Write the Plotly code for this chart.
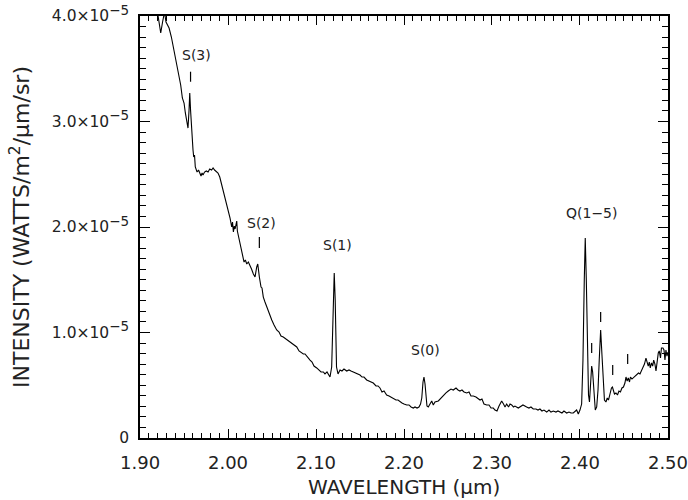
import plotly.graph_objects as go

# Spectrum: wavelength (micron) and intensity (units of 1e-5 W/m^2/um/sr)
wavelength = [
    1.9114, 1.9170, 1.9205, 1.9235, 1.9256, 1.9278, 1.9295, 1.9313, 1.9330, 1.9356,
    1.9375, 1.9390, 1.9413, 1.9426, 1.9440, 1.9462, 1.9481, 1.9500, 1.9515, 1.9534,
    1.9545, 1.9557, 1.9565, 1.9574, 1.9583, 1.9594, 1.9602, 1.9610, 1.9619, 1.9628,
    1.9648, 1.9665, 1.9678, 1.9693, 1.9705, 1.9716, 1.9733, 1.9753, 1.9773, 1.9792,
    1.9813, 1.9830, 1.9847, 1.9867, 1.9886, 1.9906, 1.9926, 1.9943, 1.9969, 2.0000,
    2.0023, 2.0042, 2.0051, 2.0061, 2.0071, 2.0080, 2.0099, 2.0106, 2.0117, 2.0128,
    2.0142, 2.0156, 2.0170, 2.0182, 2.0197, 2.0213, 2.0231, 2.0250, 2.0267, 2.0288,
    2.0307, 2.0326, 2.0338, 2.0356, 2.0375, 2.0386, 2.0401, 2.0420, 2.0440, 2.0466,
    2.0497, 2.0523, 2.0553, 2.0580, 2.0602, 2.0628, 2.0659, 2.0682, 2.0705, 2.0727,
    2.0750, 2.0781, 2.0807, 2.0830, 2.0856, 2.0875, 2.0898, 2.0932, 2.0955, 2.0977,
    2.1008, 2.1034, 2.1057, 2.1083, 2.1102, 2.1125, 2.1140, 2.1159, 2.1178, 2.1193,
    2.1207, 2.1218, 2.1233, 2.1250, 2.1273, 2.1295, 2.1318, 2.1349, 2.1375, 2.1398,
    2.1424, 2.1455, 2.1477, 2.1500, 2.1523, 2.1545, 2.1576, 2.1602, 2.1625, 2.1651,
    2.1682, 2.1705, 2.1727, 2.1750, 2.1773, 2.1803, 2.1830, 2.1852, 2.1878, 2.1909,
    2.1932, 2.1955, 2.1977, 2.2000, 2.2031, 2.2057, 2.2080, 2.2106, 2.2125, 2.2148,
    2.2170, 2.2188, 2.2202, 2.2216, 2.2227, 2.2239, 2.2250, 2.2261, 2.2276, 2.2295,
    2.2315, 2.2333, 2.2352, 2.2390, 2.2420, 2.2447, 2.2477, 2.2503, 2.2534, 2.2560,
    2.2591, 2.2614, 2.2636, 2.2659, 2.2682, 2.2713, 2.2739, 2.2761, 2.2788, 2.2818,
    2.2841, 2.2864, 2.2886, 2.2909, 2.2940, 2.2966, 2.2989, 2.3015, 2.3034, 2.3057,
    2.3080, 2.3110, 2.3131, 2.3148, 2.3167, 2.3188, 2.3205, 2.3224, 2.3244, 2.3261,
    2.3299, 2.3330, 2.3352, 2.3394, 2.3420, 2.3443, 2.3469, 2.3500, 2.3523, 2.3545,
    2.3568, 2.3591, 2.3622, 2.3648, 2.3670, 2.3697, 2.3727, 2.3750, 2.3773, 2.3795,
    2.3818, 2.3849, 2.3875, 2.3898, 2.3924, 2.3943, 2.3962, 2.3981, 2.4000, 2.4019,
    2.4034, 2.4049, 2.4060, 2.4072, 2.4083, 2.4097, 2.4108, 2.4119, 2.4133, 2.4144,
    2.4159, 2.4174, 2.4190, 2.4205, 2.4219, 2.4235, 2.4250, 2.4265, 2.4278, 2.4295,
    2.4310, 2.4324, 2.4341, 2.4358, 2.4369, 2.4381, 2.4392, 2.4409, 2.4426, 2.4443,
    2.4460, 2.4477, 2.4494, 2.4511, 2.4523, 2.4536, 2.4549, 2.4563, 2.4574, 2.4591,
    2.4606, 2.4625, 2.4644, 2.4665, 2.4682, 2.4699, 2.4719, 2.4733, 2.4750, 2.4764,
    2.4776, 2.4788, 2.4799, 2.4813, 2.4826, 2.4838, 2.4852, 2.4864, 2.4879, 2.4890,
    2.4901, 2.4915, 2.4926, 2.4943, 2.4955, 2.4966, 2.4977, 2.4989, 2.5000,
]
intensity = [
    4.341, 4.152, 4.000, 3.839, 3.943, 4.038, 3.943, 3.915, 3.886, 3.801,
    3.725, 3.659, 3.555, 3.517, 3.441, 3.346, 3.223, 3.175, 3.081, 2.967,
    2.938, 3.109, 3.270, 3.109, 2.948, 2.796, 2.730, 2.664, 2.682, 2.569,
    2.521, 2.540, 2.502, 2.483, 2.512, 2.493, 2.521, 2.531, 2.521, 2.550,
    2.540, 2.559, 2.540, 2.521, 2.512, 2.474, 2.408, 2.370, 2.284, 2.161,
    2.085, 2.000, 2.047, 1.953, 2.009, 1.981, 2.057, 1.962, 1.915, 1.877,
    1.820, 1.782, 1.716, 1.668, 1.687, 1.649, 1.668, 1.640, 1.602, 1.555,
    1.526, 1.621, 1.649, 1.526, 1.431, 1.422, 1.336, 1.289, 1.242, 1.175,
    1.118, 1.071, 1.024, 1.005, 0.967, 0.957, 0.938, 0.919, 0.910, 0.900,
    0.882, 0.863, 0.825, 0.815, 0.796, 0.796, 0.768, 0.739, 0.720, 0.682,
    0.664, 0.645, 0.626, 0.626, 0.607, 0.626, 0.607, 0.578, 0.673, 1.308,
    1.564, 1.308, 0.673, 0.607, 0.645, 0.635, 0.654, 0.635, 0.645, 0.635,
    0.626, 0.616, 0.607, 0.597, 0.578, 0.578, 0.550, 0.540, 0.531, 0.521,
    0.493, 0.493, 0.474, 0.436, 0.445, 0.408, 0.398, 0.389, 0.379, 0.360,
    0.360, 0.341, 0.332, 0.322, 0.313, 0.313, 0.294, 0.284, 0.294, 0.284,
    0.294, 0.322, 0.379, 0.531, 0.578, 0.512, 0.341, 0.303, 0.294, 0.322,
    0.351, 0.313, 0.341, 0.351, 0.379, 0.398, 0.427, 0.445, 0.464, 0.455,
    0.474, 0.455, 0.445, 0.455, 0.436, 0.427, 0.436, 0.398, 0.398, 0.389,
    0.370, 0.360, 0.370, 0.322, 0.313, 0.313, 0.284, 0.284, 0.265, 0.256,
    0.303, 0.351, 0.322, 0.294, 0.322, 0.294, 0.322, 0.313, 0.294, 0.303,
    0.284, 0.303, 0.313, 0.294, 0.284, 0.294, 0.275, 0.275, 0.265, 0.275,
    0.256, 0.265, 0.246, 0.265, 0.246, 0.256, 0.246, 0.256, 0.246, 0.237,
    0.256, 0.237, 0.246, 0.237, 0.237, 0.256, 0.265, 0.227, 0.265, 0.322,
    0.739, 1.498, 1.896, 1.498, 0.929, 0.408, 0.341, 0.502, 0.682, 0.626,
    0.408, 0.265, 0.294, 0.455, 0.739, 1.024, 0.787, 0.502, 0.360, 0.341,
    0.379, 0.360, 0.427, 0.474, 0.483, 0.445, 0.417, 0.427, 0.408, 0.445,
    0.436, 0.474, 0.483, 0.521, 0.578, 0.540, 0.569, 0.531, 0.578, 0.559,
    0.569, 0.588, 0.597, 0.616, 0.607, 0.635, 0.664, 0.701, 0.758, 0.701,
    0.682, 0.720, 0.664, 0.711, 0.682, 0.739, 0.701, 0.635, 0.739, 0.806,
    0.825, 0.758, 0.853, 0.853, 0.834, 0.739, 0.834, 0.777, 0.815,
]
SCALE = 1e-5

# Line identification labels
label_text = ["S(3)", "S(2)", "S(1)", "S(0)", "Q(1\u22125)"]
label_wl = [1.9636, 2.0386, 2.1239, 2.2239, 2.4136]
label_int = [3.630, 2.038, 1.829, 0.834, 2.133]

# Short vertical line markers
marker_wl = [1.9574, 2.0356, 2.4133, 2.4235, 2.4372, 2.4542]
marker_low = [3.377, 1.801, 0.806, 1.100, 0.597, 0.701]
marker_high = [3.472, 1.905, 0.900, 1.194, 0.692, 0.796]

x_ticks = [1.90, 2.00, 2.10, 2.20, 2.30, 2.40, 2.50]
x_ticktext = ["1.90", "2.00", "2.10", "2.20", "2.30", "2.40", "2.50"]
y_ticks = [0, 1, 2, 3, 4]
SUP = "<sup><span style=\"font-size:13.5px\">\u22125</span></sup>"
y_ticktext = ["0", "1.0\u00d710" + SUP, "2.0\u00d710" + SUP,
              "3.0\u00d710" + SUP, "4.0\u00d710" + SUP]

FONT = "DejaVu Sans"
TXT = "#222222"

fig = go.Figure()
fig.add_trace(go.Scatter(
    x=wavelength, y=[v * SCALE for v in intensity], mode="lines",
    line=dict(color="black", width=1.1), showlegend=False, hoverinfo="skip"))

mx, my = [], []
for w, lo, hi in zip(marker_wl, marker_low, marker_high):
    mx += [w, w, None]
    my += [lo * SCALE, hi * SCALE, None]
fig.add_trace(go.Scatter(x=mx, y=my, mode="lines",
                         line=dict(color="black", width=1.2),
                         showlegend=False, hoverinfo="skip"))

for t, w, v in zip(label_text, label_wl, label_int):
    fig.add_annotation(x=w, y=v * SCALE, text=t, showarrow=False,
                       font=dict(family=FONT, size=14, color=TXT),
                       xanchor="center", yanchor="middle")

fig.add_annotation(xref="paper", yref="paper", x=0.5, y=0, yshift=-49,
                   text="WAVELENGTH (\u03bcm)", showarrow=False,
                   xanchor="center", yanchor="middle",
                   font=dict(family=FONT, size=20, color=TXT))
fig.add_annotation(xref="paper", yref="paper", x=0, y=0.5, xshift=-120,
                   text="INTENSITY (WATTS/m<sup>2</sup>/\u03bcm/sr)", showarrow=False,
                   textangle=-90, xanchor="center", yanchor="middle",
                   font=dict(family=FONT, size=22, color=TXT))

fig.update_layout(
    width=688, height=500,
    margin=dict(l=140, r=20, t=16, b=62),
    paper_bgcolor="white", plot_bgcolor="white",
    font=dict(family=FONT, size=18, color=TXT),
    xaxis=dict(range=[1.89995, 2.50005], tickvals=x_ticks, ticktext=x_ticktext,
               tickfont=dict(family=FONT, size=18, color=TXT),
               ticks="inside", ticklen=9, tickwidth=1, tickcolor="black",
               showline=True, linecolor="black", linewidth=1.5, mirror="ticks",
               showgrid=False, zeroline=False, ticklabelstandoff=8,
               automargin=False, ticklabeloverflow="allow",
               minor=dict(dtick=0.01, tick0=1.9, ticks="inside", ticklen=5,
                          tickcolor="black", tickwidth=1, showgrid=False)),
    yaxis=dict(range=[0, 4.0001 * SCALE], tickvals=[v * SCALE for v in y_ticks],
               ticktext=y_ticktext,
               tickfont=dict(family=FONT, size=15.5, color=TXT),
               ticks="inside", ticklen=10, tickwidth=1, tickcolor="black",
               showline=True, linecolor="black", linewidth=1.5, mirror="ticks",
               showgrid=False, zeroline=False, ticklabelstandoff=6,
               automargin=False, ticklabeloverflow="allow",
               minor=dict(dtick=0.1 * SCALE, tick0=0, ticks="inside", ticklen=6,
                          tickcolor="black", tickwidth=1, showgrid=False)),
)

# remove the browser's default 8px body margin so the figure sits at (0, 0)
fig.write_html("out.html", config={"displayModeBar": False},
               post_script="document.body.style.margin='0';document.body.style.padding='0';")
